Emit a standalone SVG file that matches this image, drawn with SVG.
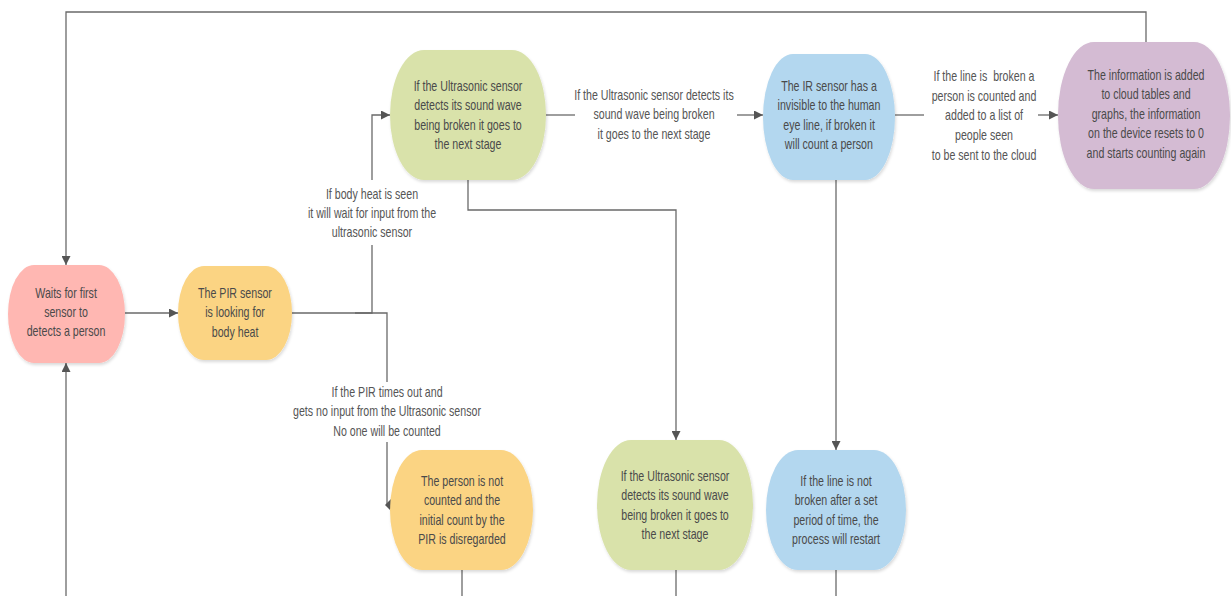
<svg xmlns="http://www.w3.org/2000/svg" width="1231" height="596" viewBox="0 0 1231 596">
  <defs>
    <marker id="arrow" viewBox="0 0 10 10" refX="10" refY="5" markerWidth="9" markerHeight="9" markerUnits="userSpaceOnUse" orient="auto">
      <path d="M0,0 L10,5 L0,10 z" fill="#555"/>
    </marker>
    <filter id="shadow" x="-10%" y="-10%" width="130%" height="130%">
      <feDropShadow dx="1" dy="2" stdDeviation="1.5" flood-color="#000" flood-opacity="0.15"/>
    </filter>
  </defs>
  <style>
    .conn { fill: none; stroke: #6a6a6a; stroke-width: 1.3; }
    .node rect { filter: url(#shadow); }
    .pink { fill: #ffb7b2; }
    .yellow { fill: #fbd483; }
    .green { fill: #d9e2aa; }
    .blue { fill: #b3d7ef; }
    .purple { fill: #d4bbd3; }
    text { font-family: "Liberation Sans Narrow", "Liberation Sans", Arial, sans-serif; font-size: 14px; text-anchor: middle;
           transform-box: fill-box; transform-origin: center; transform: scaleX(0.76); }
    .node text { fill: #4a4a4a; }
    .label { fill: #555; }
  </style>
  <rect width="1231" height="596" fill="#fff"/>

  <g id="connectors">
    <!-- feedback loop across the top -->
    <path class="conn" d="M1146,42 V12 H66 V265" marker-end="url(#arrow)"/>
    <!-- return from below -->
    <path class="conn" d="M66,596 V363" marker-end="url(#arrow)"/>
    <!-- wait -> PIR -->
    <path class="conn" d="M125,313 H178" marker-end="url(#arrow)"/>
    <!-- PIR -> ultrasonic (body heat seen) -->
    <path class="conn" d="M292,313 H372 V245"/>
    <path class="conn" d="M372,180 V115 H390" marker-end="url(#arrow)"/>
    <!-- PIR -> not counted (timeout) -->
    <path class="conn" d="M355,313 H387 V382"/>
    <path class="conn" d="M387,442 V505"/>
    <polygon points="385,505 391,499 391,511" fill="#555"/>
    <!-- ultrasonic -> IR -->
    <path class="conn" d="M546,115 H575"/>
    <path class="conn" d="M737,115 H763" marker-end="url(#arrow)"/>
    <!-- ultrasonic -> lower ultrasonic -->
    <path class="conn" d="M468,180 V210 H676 V440" marker-end="url(#arrow)"/>
    <!-- IR -> cloud -->
    <path class="conn" d="M895,115 H924"/>
    <path class="conn" d="M1038,115 H1058" marker-end="url(#arrow)"/>
    <!-- IR -> not broken -->
    <path class="conn" d="M836,180 V450" marker-end="url(#arrow)"/>
    <!-- exits at the bottom -->
    <path class="conn" d="M462,570 V596"/>
    <path class="conn" d="M676,570 V596"/>
    <path class="conn" d="M836,570 V596"/>

    <text class="label" x="372" y="199">If body heat is seen</text>
    <text class="label" x="372" y="218">it will wait for input from the</text>
    <text class="label" x="372" y="237">ultrasonic sensor</text>

    <text class="label" x="387" y="397">If the PIR times out and</text>
    <text class="label" x="387" y="416">gets no input from the Ultrasonic sensor</text>
    <text class="label" x="387" y="436">No one will be counted</text>

    <text class="label" x="654" y="100">If the Ultrasonic sensor detects its</text>
    <text class="label" x="654" y="119">sound wave being broken</text>
    <text class="label" x="654" y="139">it goes to the next stage</text>

    <text class="label" x="984" y="81" xml:space="preserve">If the line is  broken a</text>
    <text class="label" x="984" y="101">person is counted and</text>
    <text class="label" x="984" y="120">added to a list of</text>
    <text class="label" x="984" y="140">people seen</text>
    <text class="label" x="984" y="160">to be sent to the cloud</text>
  </g>

  <g id="node-wait" class="node">
    <rect class="pink" x="8" y="265" width="117" height="98" rx="26" ry="49"/>
    <text x="66" y="298">Waits for first</text>
    <text x="66" y="317">sensor to</text>
    <text x="66" y="336">detects a person</text>
  </g>

  <g id="node-pir" class="node">
    <rect class="yellow" x="178" y="266" width="114" height="94" rx="26" ry="47"/>
    <text x="235" y="298">The PIR sensor</text>
    <text x="235" y="317">is looking for</text>
    <text x="235" y="337">body heat</text>
  </g>

  <g id="node-ultrasonic" class="node">
    <rect class="green" x="390" y="50" width="156" height="130" rx="34" ry="65"/>
    <text x="468" y="91">If the Ultrasonic sensor</text>
    <text x="468" y="110">detects its sound wave</text>
    <text x="468" y="130">being broken it goes to</text>
    <text x="468" y="149">the next stage</text>
  </g>

  <g id="node-ir" class="node">
    <rect class="blue" x="763" y="54" width="132" height="126" rx="30" ry="63"/>
    <text x="829" y="91">The IR sensor has a</text>
    <text x="829" y="110">invisible to the human</text>
    <text x="829" y="130">eye line, if broken it</text>
    <text x="829" y="149">will count a person</text>
  </g>

  <g id="node-cloud" class="node">
    <rect class="purple" x="1058" y="42" width="172" height="147" rx="36" ry="73"/>
    <text x="1146" y="80">The information is added</text>
    <text x="1146" y="99">to cloud tables and</text>
    <text x="1146" y="119">graphs, the information</text>
    <text x="1146" y="138">on the device resets to 0</text>
    <text x="1146" y="158">and starts counting again</text>
  </g>

  <g id="node-not-counted" class="node">
    <rect class="yellow" x="390" y="450" width="143" height="120" rx="32" ry="60"/>
    <text x="462" y="486">The person is not</text>
    <text x="462" y="505">counted and the</text>
    <text x="462" y="525">initial count by the</text>
    <text x="462" y="544">PIR is disregarded</text>
  </g>

  <g id="node-ultrasonic-2" class="node">
    <rect class="green" x="597" y="440" width="156" height="130" rx="34" ry="65"/>
    <text x="675" y="481">If the Ultrasonic sensor</text>
    <text x="675" y="500">detects its sound wave</text>
    <text x="675" y="520">being broken it goes to</text>
    <text x="675" y="539">the next stage</text>
  </g>

  <g id="node-restart" class="node">
    <rect class="blue" x="766" y="450" width="140" height="120" rx="32" ry="60"/>
    <text x="836" y="486">If the line is not</text>
    <text x="836" y="505">broken after a set</text>
    <text x="836" y="525">period of time, the</text>
    <text x="836" y="544">process will restart</text>
  </g>
</svg>
